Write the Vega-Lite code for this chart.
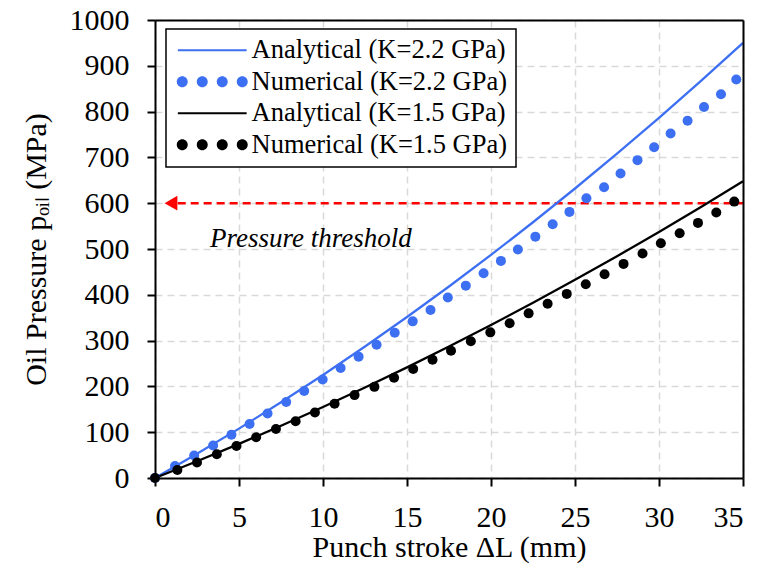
{
  "$schema": "https://vega.github.io/schema/vega-lite/v6.json",
  "width": 588,
  "height": 458,
  "autosize": {"type": "none"},
  "padding": {"left": 155, "top": 20, "right": 26, "bottom": 97},
  "background": "white",
  "config": {
    "font": "Liberation Serif",
    "view": {"stroke": null},
    "axis": {
      "domainColor": "black", "domainWidth": 2,
      "tickColor": "black", "tickWidth": 2, "tickSize": 8,
      "labelFont": "Liberation Serif", "labelFontSize": 30, "labelColor": "black", "labelPadding": 18,
      "titleFont": "Liberation Serif", "titleFontSize": 30, "titleFontWeight": "normal", "titleColor": "black",
      "gridColor": "#d9d9d9", "gridDash": [7, 5], "gridWidth": 1.5
    }
  },
  "resolve": {"axis": {"x": "independent", "y": "independent"}},
  "datasets": {
    "curves": [
      {"series": "Analytical (K=2.2 GPa)", "stroke_mm": 0, "pressure": 0},
      {"series": "Analytical (K=2.2 GPa)", "stroke_mm": 2.5, "pressure": 52.8},
      {"series": "Analytical (K=2.2 GPa)", "stroke_mm": 5, "pressure": 107.8},
      {"series": "Analytical (K=2.2 GPa)", "stroke_mm": 7.5, "pressure": 165.2},
      {"series": "Analytical (K=2.2 GPa)", "stroke_mm": 10, "pressure": 225},
      {"series": "Analytical (K=2.2 GPa)", "stroke_mm": 12.5, "pressure": 287},
      {"series": "Analytical (K=2.2 GPa)", "stroke_mm": 15, "pressure": 351.4},
      {"series": "Analytical (K=2.2 GPa)", "stroke_mm": 17.5, "pressure": 418.1},
      {"series": "Analytical (K=2.2 GPa)", "stroke_mm": 20, "pressure": 487.1},
      {"series": "Analytical (K=2.2 GPa)", "stroke_mm": 22.5, "pressure": 558.4},
      {"series": "Analytical (K=2.2 GPa)", "stroke_mm": 25, "pressure": 632.1},
      {"series": "Analytical (K=2.2 GPa)", "stroke_mm": 27.5, "pressure": 708},
      {"series": "Analytical (K=2.2 GPa)", "stroke_mm": 30, "pressure": 786.3},
      {"series": "Analytical (K=2.2 GPa)", "stroke_mm": 32.5, "pressure": 866.9},
      {"series": "Analytical (K=2.2 GPa)", "stroke_mm": 35, "pressure": 949.9},
      {"series": "Analytical (K=1.5 GPa)", "stroke_mm": 0, "pressure": 0},
      {"series": "Analytical (K=1.5 GPa)", "stroke_mm": 2.5, "pressure": 36.5},
      {"series": "Analytical (K=1.5 GPa)", "stroke_mm": 5, "pressure": 74.5},
      {"series": "Analytical (K=1.5 GPa)", "stroke_mm": 7.5, "pressure": 114},
      {"series": "Analytical (K=1.5 GPa)", "stroke_mm": 10, "pressure": 155},
      {"series": "Analytical (K=1.5 GPa)", "stroke_mm": 12.5, "pressure": 197.5},
      {"series": "Analytical (K=1.5 GPa)", "stroke_mm": 15, "pressure": 241.5},
      {"series": "Analytical (K=1.5 GPa)", "stroke_mm": 17.5, "pressure": 287},
      {"series": "Analytical (K=1.5 GPa)", "stroke_mm": 20, "pressure": 334},
      {"series": "Analytical (K=1.5 GPa)", "stroke_mm": 22.5, "pressure": 382.6},
      {"series": "Analytical (K=1.5 GPa)", "stroke_mm": 25, "pressure": 432.7},
      {"series": "Analytical (K=1.5 GPa)", "stroke_mm": 27.5, "pressure": 484.2},
      {"series": "Analytical (K=1.5 GPa)", "stroke_mm": 30, "pressure": 537.2},
      {"series": "Analytical (K=1.5 GPa)", "stroke_mm": 32.5, "pressure": 591.8},
      {"series": "Analytical (K=1.5 GPa)", "stroke_mm": 35, "pressure": 647.9}
    ],
    "points": [
      {"series": "Numerical (K=2.2 GPa)", "stroke_mm": 0, "pressure": 0},
      {"series": "Numerical (K=2.2 GPa)", "stroke_mm": 1.19, "pressure": 26},
      {"series": "Numerical (K=2.2 GPa)", "stroke_mm": 2.33, "pressure": 49},
      {"series": "Numerical (K=2.2 GPa)", "stroke_mm": 3.46, "pressure": 71},
      {"series": "Numerical (K=2.2 GPa)", "stroke_mm": 4.55, "pressure": 94.5},
      {"series": "Numerical (K=2.2 GPa)", "stroke_mm": 5.63, "pressure": 118},
      {"series": "Numerical (K=2.2 GPa)", "stroke_mm": 6.7, "pressure": 141},
      {"series": "Numerical (K=2.2 GPa)", "stroke_mm": 7.81, "pressure": 166},
      {"series": "Numerical (K=2.2 GPa)", "stroke_mm": 8.88, "pressure": 190},
      {"series": "Numerical (K=2.2 GPa)", "stroke_mm": 9.98, "pressure": 215},
      {"series": "Numerical (K=2.2 GPa)", "stroke_mm": 11.05, "pressure": 240},
      {"series": "Numerical (K=2.2 GPa)", "stroke_mm": 12.12, "pressure": 265},
      {"series": "Numerical (K=2.2 GPa)", "stroke_mm": 13.19, "pressure": 291},
      {"series": "Numerical (K=2.2 GPa)", "stroke_mm": 14.27, "pressure": 317},
      {"series": "Numerical (K=2.2 GPa)", "stroke_mm": 15.34, "pressure": 342},
      {"series": "Numerical (K=2.2 GPa)", "stroke_mm": 16.4, "pressure": 367},
      {"series": "Numerical (K=2.2 GPa)", "stroke_mm": 17.43, "pressure": 394},
      {"series": "Numerical (K=2.2 GPa)", "stroke_mm": 18.5, "pressure": 420},
      {"series": "Numerical (K=2.2 GPa)", "stroke_mm": 19.56, "pressure": 447},
      {"series": "Numerical (K=2.2 GPa)", "stroke_mm": 20.59, "pressure": 474},
      {"series": "Numerical (K=2.2 GPa)", "stroke_mm": 21.6, "pressure": 499},
      {"series": "Numerical (K=2.2 GPa)", "stroke_mm": 22.64, "pressure": 527},
      {"series": "Numerical (K=2.2 GPa)", "stroke_mm": 23.67, "pressure": 554},
      {"series": "Numerical (K=2.2 GPa)", "stroke_mm": 24.67, "pressure": 581},
      {"series": "Numerical (K=2.2 GPa)", "stroke_mm": 25.68, "pressure": 611},
      {"series": "Numerical (K=2.2 GPa)", "stroke_mm": 26.73, "pressure": 635},
      {"series": "Numerical (K=2.2 GPa)", "stroke_mm": 27.71, "pressure": 665},
      {"series": "Numerical (K=2.2 GPa)", "stroke_mm": 28.72, "pressure": 694},
      {"series": "Numerical (K=2.2 GPa)", "stroke_mm": 29.71, "pressure": 722},
      {"series": "Numerical (K=2.2 GPa)", "stroke_mm": 30.69, "pressure": 752},
      {"series": "Numerical (K=2.2 GPa)", "stroke_mm": 31.7, "pressure": 780},
      {"series": "Numerical (K=2.2 GPa)", "stroke_mm": 32.68, "pressure": 810},
      {"series": "Numerical (K=2.2 GPa)", "stroke_mm": 33.69, "pressure": 838},
      {"series": "Numerical (K=2.2 GPa)", "stroke_mm": 34.6, "pressure": 870},
      {"series": "Numerical (K=1.5 GPa)", "stroke_mm": 0, "pressure": 0},
      {"series": "Numerical (K=1.5 GPa)", "stroke_mm": 1.33, "pressure": 17.5},
      {"series": "Numerical (K=1.5 GPa)", "stroke_mm": 2.5, "pressure": 34},
      {"series": "Numerical (K=1.5 GPa)", "stroke_mm": 3.68, "pressure": 52},
      {"series": "Numerical (K=1.5 GPa)", "stroke_mm": 4.85, "pressure": 70},
      {"series": "Numerical (K=1.5 GPa)", "stroke_mm": 6.02, "pressure": 89},
      {"series": "Numerical (K=1.5 GPa)", "stroke_mm": 7.2, "pressure": 107},
      {"series": "Numerical (K=1.5 GPa)", "stroke_mm": 8.37, "pressure": 124},
      {"series": "Numerical (K=1.5 GPa)", "stroke_mm": 9.52, "pressure": 143},
      {"series": "Numerical (K=1.5 GPa)", "stroke_mm": 10.69, "pressure": 162},
      {"series": "Numerical (K=1.5 GPa)", "stroke_mm": 11.88, "pressure": 181},
      {"series": "Numerical (K=1.5 GPa)", "stroke_mm": 13.06, "pressure": 199},
      {"series": "Numerical (K=1.5 GPa)", "stroke_mm": 14.23, "pressure": 219},
      {"series": "Numerical (K=1.5 GPa)", "stroke_mm": 15.37, "pressure": 238},
      {"series": "Numerical (K=1.5 GPa)", "stroke_mm": 16.52, "pressure": 258},
      {"series": "Numerical (K=1.5 GPa)", "stroke_mm": 17.62, "pressure": 278},
      {"series": "Numerical (K=1.5 GPa)", "stroke_mm": 18.8, "pressure": 298.5},
      {"series": "Numerical (K=1.5 GPa)", "stroke_mm": 19.96, "pressure": 318},
      {"series": "Numerical (K=1.5 GPa)", "stroke_mm": 21.11, "pressure": 338},
      {"series": "Numerical (K=1.5 GPa)", "stroke_mm": 22.24, "pressure": 359.5},
      {"series": "Numerical (K=1.5 GPa)", "stroke_mm": 23.37, "pressure": 380.5},
      {"series": "Numerical (K=1.5 GPa)", "stroke_mm": 24.51, "pressure": 402},
      {"series": "Numerical (K=1.5 GPa)", "stroke_mm": 25.64, "pressure": 423},
      {"series": "Numerical (K=1.5 GPa)", "stroke_mm": 26.76, "pressure": 445},
      {"series": "Numerical (K=1.5 GPa)", "stroke_mm": 27.89, "pressure": 467.5},
      {"series": "Numerical (K=1.5 GPa)", "stroke_mm": 29.02, "pressure": 490},
      {"series": "Numerical (K=1.5 GPa)", "stroke_mm": 30.11, "pressure": 512.5},
      {"series": "Numerical (K=1.5 GPa)", "stroke_mm": 31.23, "pressure": 534.5},
      {"series": "Numerical (K=1.5 GPa)", "stroke_mm": 32.32, "pressure": 557},
      {"series": "Numerical (K=1.5 GPa)", "stroke_mm": 33.41, "pressure": 579.5},
      {"series": "Numerical (K=1.5 GPa)", "stroke_mm": 34.48, "pressure": 603.5}
    ],
    "threshold": [{"from": 1.35, "to": 35, "arrow": 0.95, "pressure": 600}],
    "note": [{"stroke_mm": 3.27, "pressure": 504, "label": "Pressure threshold"}]
  },
  "layer": [
    {
      "data": {"name": "threshold"},
      "mark": {"type": "rule", "color": "#ff0000", "strokeWidth": 2.5, "strokeDash": [8, 5]},
      "encoding": {
        "x": {"field": "from", "type": "quantitative", "scale": {"domain": [0, 35], "nice": false},
          "axis": {"title": "Punch stroke ΔL (mm)", "values": [0, 5, 10, 15, 20, 25, 30, 35], "format": "d", "labelFont": "Liberation Serif", "titleFont": "Liberation Serif", "labelPadding": 16, "titlePadding": 0, "zindex": 0}},
        "x2": {"field": "to"},
        "y": {"field": "pressure", "type": "quantitative", "scale": {"domain": [0, 1000], "nice": false},
          "axis": {"title": "Oil Pressure pₒᵢₗ (MPa)", "values": [0, 100, 200, 300, 400, 500, 600, 700, 800, 900, 1000], "format": "d", "labelFont": "Liberation Serif", "titleFont": "Liberation Serif", "titlePadding": 18, "zindex": 0}}
      }
    },
    {
      "data": {"name": "threshold"},
      "mark": {"type": "point", "shape": "triangle-left", "filled": true, "color": "#ff0000", "size": 220, "opacity": 1},
      "encoding": {
        "x": {"field": "arrow", "type": "quantitative",
          "axis": {"orient": "top", "title": null, "labels": false, "ticks": false, "grid": false, "domainWidth": 2, "domainColor": "black", "zindex": 1}},
        "y": {"field": "pressure", "type": "quantitative",
          "axis": {"orient": "right", "title": null, "labels": false, "ticks": false, "grid": false, "domainWidth": 2, "domainColor": "black", "zindex": 1}}
      }
    },
    {
      "data": {"name": "curves"},
      "mark": {"type": "line", "strokeWidth": 2.3},
      "encoding": {
        "x": {"field": "stroke_mm", "type": "quantitative", "axis": null},
        "y": {"field": "pressure", "type": "quantitative", "axis": null},
        "color": {"field": "series", "type": "nominal",
          "scale": {"domain": ["Analytical (K=2.2 GPa)", "Numerical (K=2.2 GPa)", "Analytical (K=1.5 GPa)", "Numerical (K=1.5 GPa)"],
                    "range": ["#3d6ff2", "#3d6ff2", "#000000", "#000000"]},
          "legend": {
            "orient": "none", "legendX": 11, "legendY": 9, "title": null, "direction": "vertical",
            "labelFont": "Liberation Serif", "labelFontSize": 26.5, "labelColor": "black", "labelLimit": 500,
            "symbolSize": 64, "symbolOffset": 25, "labelOffset": 26, "rowPadding": 4.5, "padding": 8,
            "strokeColor": "black", "fillColor": "white",
            "encode": {
              "symbols": {"update": {
                "shape": {"signal": "indexof(datum.value, 'Analytical') === 0 ? 'M-8.6,-0.28L8.6,-0.28L8.6,0.28L-8.6,0.28Z' : 'M-8.875,0a1.375 1.375 0 1 0 2.75 0a1.375 1.375 0 1 0 -2.75 0ZM-3.875,0a1.375 1.375 0 1 0 2.75 0a1.375 1.375 0 1 0 -2.75 0ZM1.125,0a1.375 1.375 0 1 0 2.75 0a1.375 1.375 0 1 0 -2.75 0ZM6.125,0a1.375 1.375 0 1 0 2.75 0a1.375 1.375 0 1 0 -2.75 0Z'"},
                "fill": {"scale": "color", "field": "value"},
                "stroke": {"value": "transparent"},
                "strokeWidth": {"value": 0},
                "opacity": {"value": 1}
              }},
              "legend": {"update": {"strokeWidth": {"value": 1.5}}}
            }
          }
        }
      }
    },
    {
      "data": {"name": "points"},
      "mark": {"type": "point", "shape": "circle", "filled": true, "size": 100, "opacity": 1},
      "encoding": {
        "x": {"field": "stroke_mm", "type": "quantitative", "axis": null},
        "y": {"field": "pressure", "type": "quantitative", "axis": null},
        "color": {"field": "series", "type": "nominal",
          "legend": {
            "orient": "none", "legendX": 11, "legendY": 9, "title": null, "direction": "vertical",
            "labelFont": "Liberation Serif", "labelFontSize": 26.5, "labelColor": "black", "labelLimit": 500,
            "symbolSize": 64, "symbolOffset": 25, "labelOffset": 26, "rowPadding": 4.5, "padding": 8,
            "strokeColor": "black", "fillColor": "white",
            "encode": {
              "symbols": {"update": {
                "shape": {"signal": "indexof(datum.value, 'Analytical') === 0 ? 'M-8.6,-0.28L8.6,-0.28L8.6,0.28L-8.6,0.28Z' : 'M-8.875,0a1.375 1.375 0 1 0 2.75 0a1.375 1.375 0 1 0 -2.75 0ZM-3.875,0a1.375 1.375 0 1 0 2.75 0a1.375 1.375 0 1 0 -2.75 0ZM1.125,0a1.375 1.375 0 1 0 2.75 0a1.375 1.375 0 1 0 -2.75 0ZM6.125,0a1.375 1.375 0 1 0 2.75 0a1.375 1.375 0 1 0 -2.75 0Z'"},
                "fill": {"scale": "color", "field": "value"},
                "stroke": {"value": "transparent"},
                "strokeWidth": {"value": 0},
                "opacity": {"value": 1}
              }},
              "legend": {"update": {"strokeWidth": {"value": 1.5}}}
            }
          }
        }
      }
    },
    {
      "data": {"name": "note"},
      "mark": {"type": "text", "font": "Liberation Serif", "fontStyle": "italic", "fontSize": 27, "align": "left", "baseline": "alphabetic", "color": "black"},
      "encoding": {
        "x": {"field": "stroke_mm", "type": "quantitative", "axis": null},
        "y": {"field": "pressure", "type": "quantitative", "axis": null},
        "text": {"field": "label"}
      }
    }
  ]
}
